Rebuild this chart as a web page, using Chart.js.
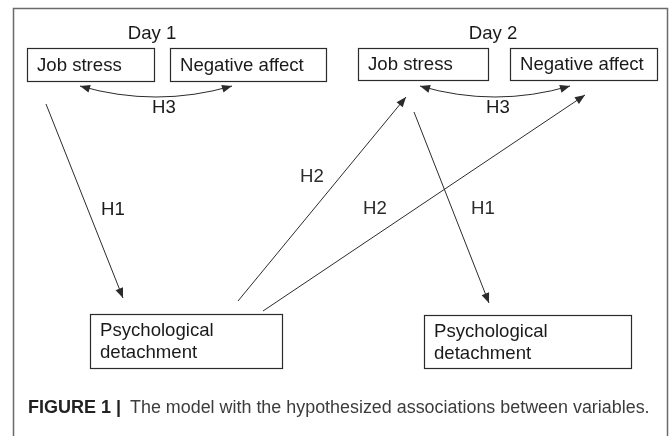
<!DOCTYPE html>
<html><head><meta charset="utf-8">
<script src="https://cdn.jsdelivr.net/npm/chart.js@4/dist/chart.umd.min.js"></script>
<style>html,body{margin:0;padding:0;background:#fff}canvas{display:block}</style>
</head><body>
<canvas id="c" width="670" height="436"></canvas>
<script>
// ---- content ----
const dayLabels = ['Day 1', 'Day 2'];
const nodeNames = ['Job stress', 'Negative affect', 'Job stress', 'Negative affect',
  ['Psychological', 'detachment'], ['Psychological', 'detachment']];
const pathNames = ['H1', 'H2', 'H2', 'H1'];
const covNames = ['H3', 'H3'];
const captionBold = 'FIGURE 1 |';
const captionText = 'The model with the hypothesized associations between variables.';

// ---- layout (diagram units) ----
const dayPos = [[152, 34], [493, 34]];
const boxRects = [[27, 48, 154, 81], [170, 48, 326, 81], [358, 48, 488, 80], [510, 48, 657, 80],
  [90, 314, 282, 368], [424, 315, 631, 368]];
const pathFrom = [[46, 104], [238, 301], [263, 311], [414, 112]];
const pathTo = [[123, 298], [406, 97], [585, 95], [489, 303]];
const pathLabelPos = [[113, 210], [312, 177], [375, 209], [483, 209]];
const covFrom = [[80, 86], [420, 86]];
const covTo = [[232, 86], [570, 86]];
const covSag = [11, 11];
const covLabelPos = [[164, 108], [498, 108]];
const captionPos = [28, 408];
const captionTextSpan = [130, 650];

const INK = '#2b2b2b';
const FONT = '"Liberation Sans", Arial, sans-serif';

const pathDatasets = pathFrom.map((f, i) => ({
  label: pathNames[i],
  data: [{x: f[0], y: f[1]}, {x: pathTo[i][0], y: pathTo[i][1]}],
  showLine: true, borderColor: INK, borderWidth: 1, pointRadius: 0, fill: false
}));

function arrowHead(ctx, tx, ty, dx, dy) {
  const len = Math.hypot(dx, dy); dx /= len; dy /= len;
  const L = 10, W = 4;
  ctx.beginPath();
  ctx.moveTo(tx, ty);
  ctx.lineTo(tx - dx * L - dy * W, ty - dy * L + dx * W);
  ctx.lineTo(tx - dx * L + dy * W, ty - dy * L - dx * W);
  ctx.closePath();
  ctx.fillStyle = INK; ctx.fill();
}

const diagram = {
  id: 'diagram',
  afterDatasetsDraw(chart) {
    const ctx = chart.ctx, xs = chart.scales.x, ys = chart.scales.y;
    const X = v => xs.getPixelForValue(v), Y = v => ys.getPixelForValue(v);
    ctx.save();
    // frame
    ctx.strokeStyle = '#6a6a6a'; ctx.lineWidth = 1.5;
    ctx.strokeRect(X(13.5), Y(8.5), X(667.5) - X(13.5), Y(445) - Y(8.5));
    // boxes
    ctx.strokeStyle = INK; ctx.lineWidth = 1.2;
    ctx.font = '18.6px ' + FONT; ctx.fillStyle = '#1a1a1a';
    ctx.textBaseline = 'middle'; ctx.textAlign = 'left';
    boxRects.forEach((r, i) => {
      ctx.strokeRect(X(r[0]) + 0.5, Y(r[1]) + 0.5, X(r[2]) - X(r[0]), Y(r[3]) - Y(r[1]));
      const name = nodeNames[i];
      if (Array.isArray(name)) {
        ctx.fillText(name[0], X(r[0]) + 10, Y(r[1]) + 17);
        ctx.fillText(name[1], X(r[0]) + 10, Y(r[1]) + 39);
      } else {
        ctx.fillText(name, X(r[0]) + 10, (Y(r[1]) + Y(r[3])) / 2 + 1);
      }
    });
    // day labels
    ctx.textAlign = 'center';
    dayLabels.forEach((d, i) => ctx.fillText(d, X(dayPos[i][0]), Y(dayPos[i][1])));
    // path labels and arrowheads
    pathNames.forEach((n, i) => {
      ctx.fillText(n, X(pathLabelPos[i][0]), Y(pathLabelPos[i][1]));
      const tx = X(pathTo[i][0]), ty = Y(pathTo[i][1]);
      arrowHead(ctx, tx, ty, tx - X(pathFrom[i][0]), ty - Y(pathFrom[i][1]));
    });
    // covariance arcs
    ctx.lineWidth = 1;
    covNames.forEach((n, i) => {
      const x1 = X(covFrom[i][0]), y1 = Y(covFrom[i][1]);
      const x2 = X(covTo[i][0]), y2 = Y(covTo[i][1]);
      const cx = (x1 + x2) / 2, cy = (y1 + y2) / 2 + 2 * (Y(covSag[i]) - Y(0));
      ctx.beginPath(); ctx.moveTo(x1, y1); ctx.quadraticCurveTo(cx, cy, x2, y2);
      ctx.strokeStyle = INK; ctx.stroke();
      arrowHead(ctx, x1, y1, x1 - cx, y1 - cy);
      arrowHead(ctx, x2, y2, x2 - cx, y2 - cy);
      ctx.fillStyle = '#1a1a1a';
      ctx.fillText(n, X(covLabelPos[i][0]), Y(covLabelPos[i][1]));
    });
    // caption
    ctx.textAlign = 'left';
    ctx.fillStyle = '#222';
    ctx.font = 'bold 18px ' + FONT;
    ctx.fillText(captionBold, X(captionPos[0]), Y(captionPos[1]));
    ctx.font = '18px ' + FONT;
    const want = X(captionTextSpan[1]) - X(captionTextSpan[0]);
    const size = 18 * want / ctx.measureText(captionText).width;
    ctx.font = size.toFixed(2) + 'px ' + FONT;
    ctx.fillStyle = '#3c3c3c';
    ctx.fillText(captionText, X(captionTextSpan[0]), Y(captionPos[1]));
    ctx.restore();
  }
};

new Chart(document.getElementById('c'), {
  type: 'scatter',
  data: { datasets: pathDatasets },
  options: {
    responsive: false, animation: false,
    layout: { padding: 0 },
    plugins: { legend: { display: false }, tooltip: { enabled: false }, title: { display: false } },
    scales: {
      x: { type: 'linear', min: 0, max: 670, display: false },
      y: { type: 'linear', min: 0, max: 436, reverse: true, display: false }
    }
  },
  plugins: [diagram]
});
</script>
</body></html>
